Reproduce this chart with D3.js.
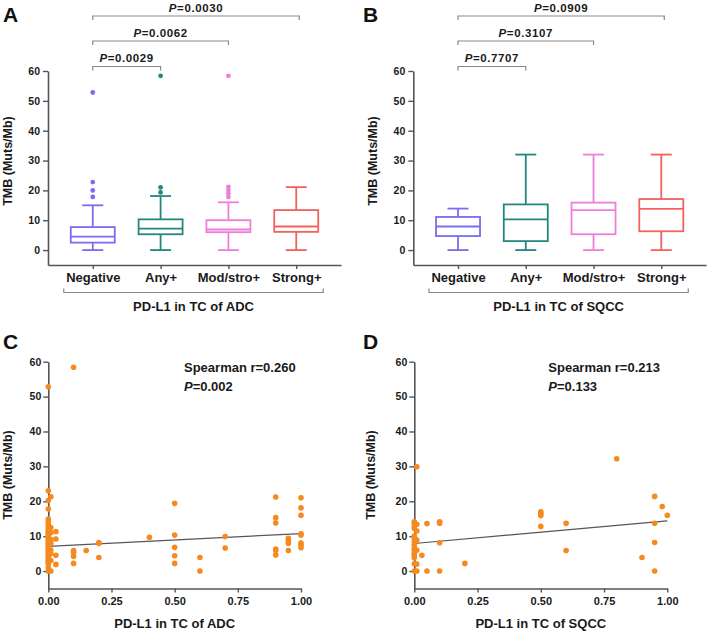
<!DOCTYPE html>
<html>
<head>
<meta charset="utf-8">
<script src="https://cdn.jsdelivr.net/npm/d3@7"></script>
<style>
  body { margin: 0; background: #fff; }
  svg { display: block; font-family: "Liberation Sans", Arial, sans-serif; }
</style>
</head>
<body>
<svg id="chart" width="709" height="636"></svg>
<script>
// ---------------- DATA ----------------
const categories = ["Negative", "Any+", "Mod/stro+", "Strong+"];
const categoryColors = ["#7b6cf0", "#24877f", "#ee7fd9", "#f2625f"];
const yTicks = [0, 10, 20, 30, 40, 50, 60];
const xTicksScatter = [0, 0.25, 0.5, 0.75, 1];

// Panel A: ADC box plots (Tukey)
const adcLow = [0, 0, 0, 0];
const adcQ1 = [2.5, 5.3, 6.0, 6.1];
const adcMedian = [4.5, 7.2, 6.9, 7.9];
const adcQ3 = [7.7, 10.3, 10.0, 13.4];
const adcHigh = [15.0, 18.1, 16.0, 21.1];
const adcOutliers = [[17.8, 20.0, 22.8, 52.8], [19.3, 21.0, 58.4], [17.8, 19.0, 20.1, 21.2, 58.4], []];
const adcPValues = ["0.0029", "0.0062", "0.0030"];

// Panel B: SQCC box plots
const sqccLow = [0, 0, 0, 0];
const sqccQ1 = [4.7, 3.0, 5.3, 6.3];
const sqccMedian = [7.9, 10.3, 13.4, 13.8];
const sqccQ3 = [11.1, 15.3, 15.9, 17.1];
const sqccHigh = [13.9, 32.0, 32.0, 32.0];
const sqccOutliers = [[], [], [], []];
const sqccPValues = ["0.7707", "0.3107", "0.0909"];

// Panel C: ADC scatter
const adcX = [0.10, 0, 0, 0.01, 0, 0, 0, 0, 0, 0, 0, 0, 0, 0, 0, 0, 0, 0, 0, 0, 0, 0, 0, 0, 0, 0, 0, 0, 0, 0, 0, 0, 0,
  0.01, 0.01, 0.01, 0.01, 0.01, 0.01, 0.01, 0.01,
  0.03, 0.03, 0.03, 0.03,
  0.10, 0.10, 0.10, 0.10, 0.15, 0.20, 0.20, 0.20, 0.40,
  0.50, 0.50, 0.50, 0.50, 0.50, 0.60, 0.60, 0.70, 0.70,
  0.90, 0.90, 0.90, 0.90, 0.90, 0.90, 0.95, 0.95, 0.95, 0.95,
  1.00, 1.00, 1.00, 1.00, 1.00, 1.00, 1.00, 1.00];
const adcY = [58.4, 52.8, 23.0, 21.3, 20.2, 17.8, 14.9, 14.2, 13.5, 12.8, 12.0, 11.5, 11.0, 10.5, 10.0, 9.5, 9.0, 8.5, 8.0, 7.5, 7.0, 6.5, 6.0, 5.5, 5.0, 4.5, 4.0, 3.5, 3.0, 2.5, 2.0, 1.0, 0,
  12.5, 11.0, 9.0, 8.0, 6.0, 5.0, 3.0, 0,
  11.3, 9.2, 4.5, 1.9,
  5.9, 5.3, 4.2, 2.2, 5.9, 8.2, 7.9, 3.9, 9.7,
  19.4, 10.3, 6.8, 4.4, 2.2, 3.9, 0.0, 9.9, 6.6,
  21.2, 15.3, 13.8, 6.3, 5.9, 4.6, 9.4, 8.7, 8.0, 5.9,
  21.0, 18.1, 16.0, 10.7, 10.3, 8.0, 7.4, 6.7];
const adcFit = [7.1, 10.75];           // fitted TMB at x = 0 and x = 1
const adcStats = ["Spearman r=0.260", "0.002"];

// Panel D: SQCC scatter
const sqccX = [0.01, 0, 0, 0, 0, 0, 0, 0, 0, 0, 0, 0, 0, 0, 0, 0,
  0.01, 0.01, 0.01, 0.01, 0.01, 0.01, 0.03, 0.05, 0.05, 0.10, 0.10, 0.10, 0.10, 0.20,
  0.50, 0.50, 0.50, 0.50, 0.60, 0.60, 0.80, 0.90, 0.95, 0.95, 0.95, 0.95, 0.98, 1.00];
const sqccY = [29.9, 14.1, 13.6, 12.7, 12.2, 10.0, 9.4, 8.4, 7.4, 6.4, 5.9, 5.0, 4.5, 3.8, 2.1, 0,
  13.4, 11.5, 8.9, 6.0, 2.0, 0, 4.5, 13.6, 0, 14.1, 13.7, 8.1, 0, 2.2,
  17.0, 16.5, 15.9, 12.8, 13.7, 5.9, 32.2, 3.9, 21.4, 13.7, 8.2, 0, 18.5, 16.0];
const sqccFit = [7.9, 14.4];
const sqccStats = ["Spearman r=0.213", "0.133"];

const groupTitles = ["PD-L1 in TC of ADC", "PD-L1 in TC of SQCC"];
const yTitle = "TMB (Muts/Mb)";

// ---------------- DRAWING ----------------
const svg = d3.select("#chart");
const axisColor = "#555";
const textColor = "#1a1a1a";
const bracketColor = "#8a8a8a";
const dotColor = "#f58a1f";

function styleAxis(g) {
  g.select(".domain").attr("stroke", axisColor).attr("stroke-width", 1.6);
  g.selectAll(".tick line").attr("stroke", axisColor).attr("stroke-width", 1.4);
  g.selectAll(".tick text").attr("fill", textColor).attr("font-weight", "bold")
    .attr("font-family", "'Liberation Sans', Arial, sans-serif");
}

function panelLabel(txt, x, y) {
  svg.append("text").attr("x", x).attr("y", y).text(txt)
    .attr("font-size", 21).attr("font-weight", "bold").attr("fill", "#111");
}

function yAxisTitle(x, y) {
  svg.append("text").attr("transform", `translate(${x},${y}) rotate(-90)`)
    .attr("text-anchor", "middle").attr("font-size", 12.5).attr("font-weight", "bold")
    .attr("fill", textColor).text(yTitle);
}

function pText(g, x, y, val, anchor, size, spacing) {
  const t = g.append("text").attr("x", x).attr("y", y).attr("text-anchor", anchor || "middle")
    .attr("font-size", size || 13).attr("font-weight", "bold").attr("fill", textColor)
    .attr("letter-spacing", spacing || 0);
  t.append("tspan").attr("font-style", "italic").text("P");
  t.append("tspan").text("=" + val);
  return t;
}

function boxPanel(opt) {
  const g = svg.append("g");
  const x = d3.scalePoint().domain(categories).range(opt.xRange).padding(0.66);
  const y = d3.scaleLinear().domain([-5, 60]).range([265, 71]);

  const ya = g.append("g").attr("transform", `translate(${opt.xRange[0]},0)`)
    .call(d3.axisLeft(y).tickValues(yTicks).tickSize(5).tickSizeOuter(0).tickPadding(3));
  styleAxis(ya);
  ya.selectAll(".tick text").attr("font-size", 10.5);

  const xa = g.append("g").attr("transform", `translate(0,265)`)
    .call(d3.axisBottom(x).tickSize(4).tickSizeOuter(0).tickPadding(4));
  styleAxis(xa);
  xa.selectAll(".tick text").attr("font-size", 13);

  const bw = 44, cw = 21;
  categories.forEach((c, i) => {
    const cx = x(c), col = categoryColors[i];
    const bg = g.append("g").attr("stroke", col).attr("stroke-width", 1.8).attr("fill", "none");
    bg.append("line").attr("x1", cx).attr("x2", cx).attr("y1", y(opt.low[i])).attr("y2", y(opt.q1[i]));
    bg.append("line").attr("x1", cx).attr("x2", cx).attr("y1", y(opt.q3[i])).attr("y2", y(opt.high[i]));
    bg.append("line").attr("x1", cx - cw / 2).attr("x2", cx + cw / 2).attr("y1", y(opt.low[i])).attr("y2", y(opt.low[i]));
    bg.append("line").attr("x1", cx - cw / 2).attr("x2", cx + cw / 2).attr("y1", y(opt.high[i])).attr("y2", y(opt.high[i]));
    bg.append("rect").attr("x", cx - bw / 2).attr("width", bw)
      .attr("y", y(opt.q3[i])).attr("height", y(opt.q1[i]) - y(opt.q3[i]));
    bg.append("line").attr("x1", cx - bw / 2).attr("x2", cx + bw / 2).attr("y1", y(opt.median[i])).attr("y2", y(opt.median[i]));
    g.selectAll(null).data(opt.outliers[i]).enter().append("circle")
      .attr("cx", cx).attr("cy", d => y(d)).attr("r", 2.4).attr("fill", col);
  });

  // significance brackets
  const levels = [66.5, 41, 16];
  opt.pvals.forEach((p, k) => {
    const x0 = x(categories[0]), x1 = x(categories[k + 1]) + (k === 2 ? 3 : 0);
    const ly = levels[k];
    g.append("path").attr("d", `M${x0},${ly + 4}V${ly}H${x1}V${ly + 4}`)
      .attr("fill", "none").attr("stroke", bracketColor).attr("stroke-width", 1.2);
    pText(g, (x0 + x1) / 2, ly - 4.5, p, "middle", 11.5, 0.6);
  });

  // group bracket below
  const gx0 = x(categories[0]) - 29, gx1 = x(categories[3]) + 27;
  g.append("path").attr("d", `M${gx0},288.5V292.5H${gx1}V288.5`)
    .attr("fill", "none").attr("stroke", bracketColor).attr("stroke-width", 1.2);
  g.append("text").attr("x", (gx0 + gx1) / 2).attr("y", 311).attr("text-anchor", "middle")
    .attr("font-size", 13).attr("font-weight", "bold").attr("fill", textColor).text(opt.title);
}

function scatterPanel(opt) {
  const g = svg.append("g");
  const x = d3.scaleLinear().domain([0, 1]).range(opt.xRange);
  const y = d3.scaleLinear().domain([-5, 60]).range([588.5, 361.7]);

  const ya = g.append("g").attr("transform", `translate(${opt.xRange[0]},0)`)
    .call(d3.axisLeft(y).tickValues(yTicks).tickSize(5).tickSizeOuter(0).tickPadding(2));
  styleAxis(ya);
  ya.selectAll(".tick text").attr("font-size", 10.5);

  const xa = g.append("g").attr("transform", `translate(0,588.5)`)
    .call(d3.axisBottom(x).tickValues(xTicksScatter).tickFormat(d3.format(".2f")).tickSize(4).tickSizeOuter(0).tickPadding(5));
  styleAxis(xa);
  xa.selectAll(".tick text").attr("font-size", 11);

  g.append("line").attr("x1", x(0)).attr("x2", x(1)).attr("y1", y(opt.fit[0])).attr("y2", y(opt.fit[1]))
    .attr("stroke", "#555").attr("stroke-width", 1.2);

  g.selectAll(null).data(opt.xs).enter().append("circle")
    .attr("cx", d => x(d)).attr("cy", (d, i) => y(opt.ys[i])).attr("r", 2.8).attr("fill", dotColor);

  g.append("text").attr("x", opt.statX).attr("y", 372).attr("font-size", 13).attr("font-weight", "bold")
    .attr("fill", textColor).text(opt.stats[0]);
  pText(g, opt.statX, 391, opt.stats[1], "start");

  g.append("text").attr("x", (opt.xRange[0] + opt.xRange[1]) / 2).attr("y", 628).attr("text-anchor", "middle")
    .attr("font-size", 13).attr("font-weight", "bold").attr("fill", textColor).text(opt.title);
}

boxPanel({ xRange: [48, 341], low: adcLow, q1: adcQ1, median: adcMedian, q3: adcQ3, high: adcHigh,
  outliers: adcOutliers, pvals: adcPValues, title: groupTitles[0] });
boxPanel({ xRange: [413.3, 706], low: sqccLow, q1: sqccQ1, median: sqccMedian, q3: sqccQ3, high: sqccHigh,
  outliers: sqccOutliers, pvals: sqccPValues, title: groupTitles[1] });
scatterPanel({ xRange: [48.3, 301], xs: adcX, ys: adcY, fit: adcFit, stats: adcStats, statX: 184, title: groupTitles[0] });
scatterPanel({ xRange: [414.3, 667.3], xs: sqccX, ys: sqccY, fit: sqccFit, stats: sqccStats, statX: 548.3, title: groupTitles[1] });

panelLabel("A", 3, 22);
panelLabel("B", 363, 22);
panelLabel("C", 3, 349);
panelLabel("D", 363, 349);

yAxisTitle(12, 161);
yAxisTitle(377, 161);
yAxisTitle(12, 475);
yAxisTitle(375, 475);
</script>
</body>
</html>
